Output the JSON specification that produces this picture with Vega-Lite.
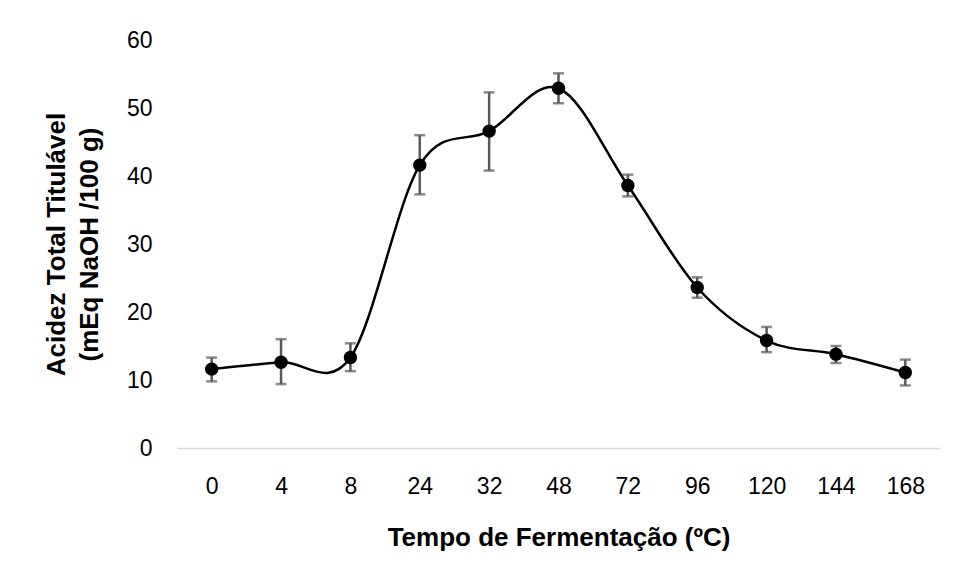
{
  "$schema": "https://vega.github.io/schema/vega-lite/v6.json",
  "autosize": {"type": "none"},
  "padding": {"left": 177, "top": 40, "right": 18, "bottom": 130},
  "width": 763,
  "height": 408,
  "background": "white",
  "config": {
    "view": {"stroke": null},
    "font": "Liberation Sans"
  },
  "data": {
    "values": [
      {"tempo": "0", "acidez": 11.6, "lo": 9.8, "hi": 13.3},
      {"tempo": "4", "acidez": 12.6, "lo": 9.4, "hi": 16.0},
      {"tempo": "8", "acidez": 13.3, "lo": 11.3, "hi": 15.4},
      {"tempo": "24", "acidez": 41.6, "lo": 37.3, "hi": 46.0},
      {"tempo": "32", "acidez": 46.6, "lo": 40.8, "hi": 52.3},
      {"tempo": "48", "acidez": 52.9, "lo": 50.7, "hi": 55.1},
      {"tempo": "72", "acidez": 38.6, "lo": 37.0, "hi": 40.2},
      {"tempo": "96", "acidez": 23.6, "lo": 22.1, "hi": 25.1},
      {"tempo": "120", "acidez": 15.8, "lo": 14.1, "hi": 17.8},
      {"tempo": "144", "acidez": 13.8, "lo": 12.5, "hi": 15.0},
      {"tempo": "168", "acidez": 11.1, "lo": 9.2, "hi": 13.0}
    ]
  },
  "encoding": {
    "x": {
      "field": "tempo",
      "type": "ordinal",
      "sort": null,
      "scale": {"type": "point", "padding": 0.5},
      "axis": {
        "title": "Tempo de Fermentação (ºC)",
        "titleFont": "Liberation Sans",
        "titleFontSize": 26,
        "titleFontWeight": "bold",
        "titleColor": "#000000",
        "titlePadding": 26,
        "labelFont": "Liberation Sans",
        "labelFontSize": 23,
        "labelColor": "#000000",
        "labelAngle": 0,
        "labelPadding": 27,
        "ticks": false,
        "domainColor": "#d9d9d9",
        "domainWidth": 1.5,
        "grid": false
      }
    }
  },
  "layer": [
    {
      "mark": {"type": "rule", "color": "#595959", "strokeWidth": 2.5},
      "encoding": {
        "y": {"field": "lo", "type": "quantitative"},
        "y2": {"field": "hi"}
      }
    },
    {
      "mark": {"type": "tick", "color": "#595959", "thickness": 2.5, "size": 11, "orient": "horizontal"},
      "encoding": {
        "y": {"field": "lo", "type": "quantitative"}
      }
    },
    {
      "mark": {"type": "tick", "color": "#595959", "thickness": 2.5, "size": 11, "orient": "horizontal"},
      "encoding": {
        "y": {"field": "hi", "type": "quantitative"}
      }
    },
    {
      "mark": {"type": "line", "color": "#000000", "strokeWidth": 2.5, "interpolate": "cardinal"},
      "encoding": {
        "y": {"field": "acidez", "type": "quantitative"}
      }
    },
    {
      "mark": {"type": "point", "filled": true, "color": "#000000", "opacity": 1, "size": 180},
      "encoding": {
        "y": {
          "field": "acidez",
          "type": "quantitative",
          "scale": {"domain": [0, 60]},
          "axis": {
            "title": ["Acidez Total Titulável", "(mEq NaOH /100 g)"],
            "titleFont": "Liberation Sans",
            "titleFontSize": 26,
            "titleFontWeight": "bold",
            "titleColor": "#000000",
            "titleLineHeight": 33,
            "titlePadding": 24,
            "labelFont": "Liberation Sans",
            "labelFontSize": 23,
            "labelColor": "#000000",
            "labelPadding": 25,
            "values": [0, 10, 20, 30, 40, 50, 60],
            "ticks": false,
            "domain": false,
            "grid": false
          }
        }
      }
    }
  ]
}
